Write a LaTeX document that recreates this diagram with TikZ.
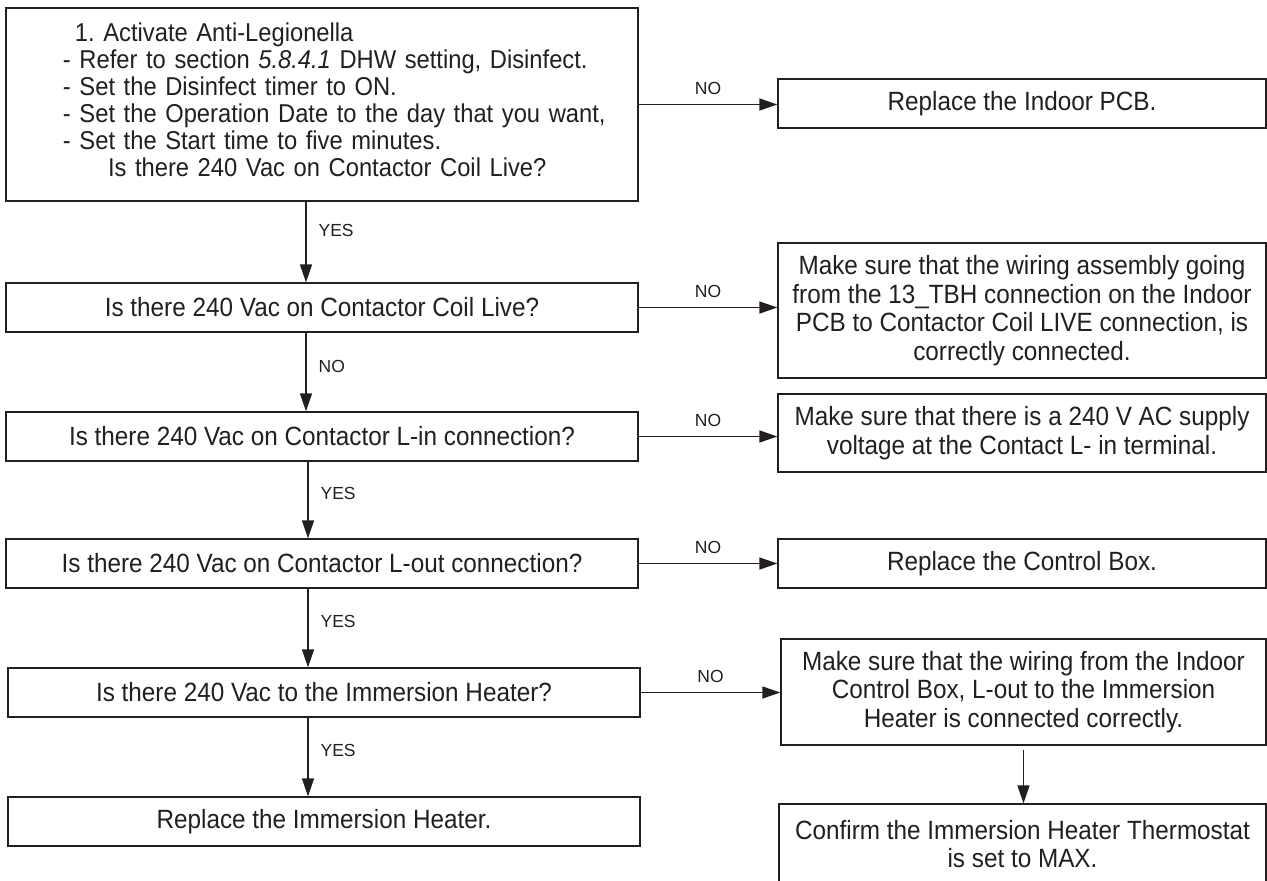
\documentclass[tikz,border=0pt]{standalone}
\usepackage{fontspec}
\setmainfont{Liberation Sans}[FakeStretch=0.92]
\newfontfamily\labfont{Liberation Sans}
\usetikzlibrary{arrows.meta,calc}
\definecolor{ink}{HTML}{231F20}
\begin{document}
\frenchspacing
\begin{tikzpicture}[x=1pt,y=-1pt,
  box/.style={draw=ink, line width=1.3pt, text=ink, inner sep=0pt, align=center,
    font=\fontsize{26.4pt}{28.5pt}\selectfont},
  lbox/.style={box, minimum width=632pt, minimum height=49pt},
  rbox/.style={box, minimum width=488pt},
  arr/.style={draw=ink, line width=1.3pt, -{Triangle[length=18pt,width=12pt]}},
  lab/.style={font=\labfont\fontsize{17.5pt}{20pt}\selectfont, text=ink, inner sep=0pt}]
\useasboundingbox (0,0) rectangle (1267,881);
\clip (0,0) rectangle (1267,881);
\fill[white] (0,0) rectangle (1267,881);

% left column
\node[box, minimum width=632pt, minimum height=193pt, text width=600pt, align=left,
  font=\fontsize{25.8pt}{27pt}\selectfont] (b1) at (322,104.5)
  {\hspace*{53pt}1. Activate Anti-Legionella\\
   \hspace*{41pt}- Refer to section \textit{5.8.4.1} DHW setting, Disinfect.\\
   \hspace*{41pt}- Set the Disinfect timer to ON.\\
   \hspace*{41pt}- Set the Operation Date to the day that you want,\\
   \hspace*{41pt}- Set the Start time to five minutes.\\
   \hspace*{86pt}Is there 240 Vac on Contactor Coil Live?\rule[-9pt]{0pt}{9pt}};
\node[lbox] (b2) at (322,307.5) {Is there 240 Vac on Contactor Coil Live?};
\node[lbox] (b3) at (322,436.5) {Is there 240 Vac on Contactor L-in connection?};
\node[lbox] (b4) at (322,563.5) {Is there 240 Vac on Contactor L-out connection?};
\node[lbox] (b5) at (324,692.5) {Is there 240 Vac to the Immersion Heater?};
\node[lbox] (b6) at (324,821.5) {Replace the Immersion Heater.};

% right column
\node[rbox, minimum height=49pt] (r1) at (1022,103.5) {Replace the Indoor PCB.};
\node[rbox, minimum height=135pt] (r2) at (1022,310.5)
  {Make sure that the wiring assembly going\\
   from the 13\_TBH connection on the Indoor\\
   PCB to Contactor Coil LIVE connection, is\\
   correctly connected.};
\node[rbox, minimum height=78pt] (r3) at (1022,433)
  {Make sure that there is a 240 V AC supply\\
   voltage at the Contact L- in terminal.};
\node[rbox, minimum height=49pt] (r4) at (1022,563.5) {Replace the Control Box.};
\node[rbox, minimum width=485pt, minimum height=106pt] (r5) at (1023.5,692)
  {Make sure that the wiring from the Indoor\\
   Control Box, L-out to the Immersion\\
   Heater is connected correctly.};
\node[rbox, minimum width=487pt, minimum height=80pt] (r6) at (1022.5,844)
  {Confirm the Immersion Heater Thermostat\\
   is set to MAX.};

% vertical connectors
\coordinate (ax) at (306,0);
\coordinate (bx) at (308,0);
\draw[arr] (b1.south -| ax) -- (b2.north -| ax)
  node[lab, pos=0.36, anchor=west, xshift=12pt] {YES};
\draw[arr] (b2.south -| ax) -- (b3.north -| ax)
  node[lab, pos=0.43, anchor=west, xshift=12pt] {NO};
\draw[arr] (b3.south -| bx) -- (b4.north -| bx)
  node[lab, pos=0.41, anchor=west, xshift=12pt] {YES};
\draw[arr] (b4.south -| bx) -- (b5.north -| bx)
  node[lab, pos=0.42, anchor=west, xshift=12pt] {YES};
\draw[arr] (b5.south -| bx) -- (b6.north -| bx)
  node[lab, pos=0.42, anchor=west, xshift=12pt] {YES};

% horizontal connectors
\draw[arr] (b1.east) -- (b1.east -| r1.west) node[lab, midway, above=9pt] {NO};
\draw[arr] (b2.east) -- (b2.east -| r2.west) node[lab, midway, above=9pt] {NO};
\draw[arr] (b3.east) -- (b3.east -| r3.west) node[lab, midway, above=9pt] {NO};
\draw[arr] (b4.east) -- (b4.east -| r4.west) node[lab, midway, above=9pt] {NO};
\draw[arr] (b5.east) -- (b5.east -| r5.west) node[lab, midway, above=9pt] {NO};
\draw[arr, shorten <=4pt] (r5.south) -- (r5.south |- r6.north);
\end{tikzpicture}
\end{document}
